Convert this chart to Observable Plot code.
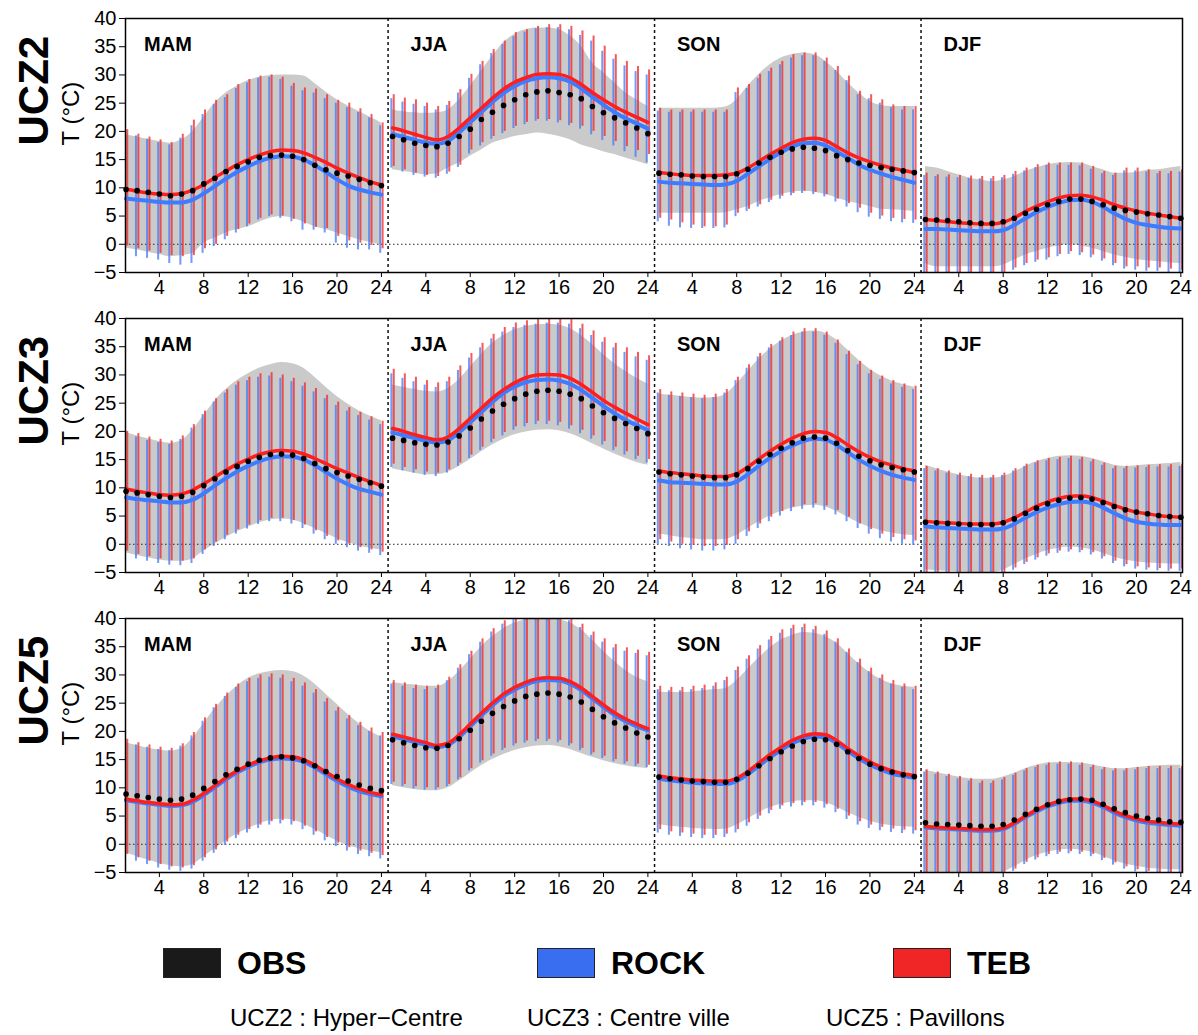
<!DOCTYPE html>
<html><head><meta charset="utf-8">
<script src="https://cdn.jsdelivr.net/npm/d3@7"></script>
<script src="https://cdn.jsdelivr.net/npm/@observablehq/plot@0.6"></script>
<style>
body{margin:0;background:#fff;font-family:"Liberation Sans",Arial,sans-serif;}
#wrap{position:relative;width:1198px;height:1035px;overflow:hidden;}
#charts svg{display:block;}
.leg{position:absolute;top:948px;height:30px;display:flex;align-items:center;}
.sw{width:58px;height:30px;border:1px solid #222;box-sizing:border-box;}
.lt{font-weight:bold;font-size:32px;margin-left:16px;line-height:30px;}
.cap{position:absolute;top:1004px;font-size:24px;line-height:28px;}
#err{position:absolute;top:0;left:0;color:red;font-size:14px;}
</style></head>
<body><div id="wrap"><div id="charts"></div>
<div class="leg" style="left:163px"><div class="sw" style="background:#1a1a1a"></div><div class="lt">OBS</div></div>
<div class="leg" style="left:537px"><div class="sw" style="background:#3a6ef0"></div><div class="lt">ROCK</div></div>
<div class="leg" style="left:893px"><div class="sw" style="background:#f02626"></div><div class="lt">TEB</div></div>
<div class="cap" style="left:230px">UCZ2 : Hyper−Centre</div>
<div class="cap" style="left:527px">UCZ3 : Centre ville</div>
<div class="cap" style="left:826px">UCZ5 : Pavillons</div>
<div id="err"></div>
</div>
<script>
const zones = ["UCZ2", "UCZ3", "UCZ5"];
const seasons = ["MAM", "JJA", "SON", "DJF"];
const hours = [1,2,3,4,5,6,7,8,9,10,11,12,13,14,15,16,17,18,19,20,21,22,23,24];
const hourTicks = [4, 8, 12, 16, 20, 24];
const yTicks = [-5, 0, 5, 10, 15, 20, 25, 30, 35, 40];

// ---------- UCZ2 ----------
const UCZ2_obs = [
 [9.7,9.5,9.2,8.9,8.6,8.9,9.5,10.7,11.7,12.9,13.8,14.6,15.4,15.7,15.8,15.6,15.0,14.0,13.2,12.6,12.1,11.5,10.9,10.4],
 [19.1,18.5,17.9,17.5,17.3,17.9,19.1,20.4,22.1,23.4,24.6,25.6,26.5,27.0,27.2,26.9,26.5,25.8,24.4,23.3,22.4,21.5,20.6,19.6],
 [12.6,12.4,12.3,12.1,12.0,12.0,12.0,12.5,13.3,14.4,15.4,16.3,16.9,17.2,17.0,16.6,15.7,15.0,14.4,14.0,13.6,13.3,13.0,12.7],
 [4.4,4.3,4.2,4.0,3.8,3.7,3.7,4.0,4.6,5.5,6.2,7.0,7.6,8.0,8.0,7.6,7.0,6.4,6.0,5.7,5.4,5.2,4.9,4.6]];
const UCZ2_teb = [
 [9.8,9.4,9.1,8.9,8.8,9.0,9.6,10.6,11.8,13.0,14.1,15.0,15.8,16.4,16.7,16.6,16.2,15.4,14.5,13.5,12.6,11.8,11.1,10.5],
 [20.6,20.1,19.5,18.9,18.5,19.1,20.6,22.4,24.1,25.9,27.5,28.7,29.5,30.1,30.2,30.1,29.5,28.3,26.9,25.6,24.4,23.4,22.5,21.6],
 [12.7,12.5,12.3,12.2,12.2,12.2,12.3,12.6,13.5,14.7,15.9,17.0,18.0,18.6,18.8,18.4,17.3,16.2,15.3,14.6,14.0,13.5,13.1,12.7],
 [4.4,4.2,4.0,3.8,3.7,3.6,3.6,3.9,4.7,5.8,6.7,7.5,8.2,8.6,8.7,8.4,7.8,7.0,6.4,5.9,5.5,5.2,4.9,4.6]];
const UCZ2_rock = [
 [8.1,7.9,7.7,7.5,7.4,7.4,7.9,9.0,10.3,11.6,12.8,13.8,14.7,15.3,15.6,15.5,15.0,14.0,12.8,11.5,10.4,9.7,9.2,8.8],
 [19.5,19.0,18.5,18.0,17.8,18.3,19.8,21.6,23.4,25.2,26.8,28.0,28.9,29.4,29.6,29.4,28.8,27.6,26.1,24.7,23.4,22.3,21.4,20.5],
 [11.1,10.9,10.8,10.7,10.6,10.5,10.6,11.2,12.5,13.8,15.1,16.3,17.3,17.9,18.0,17.5,16.4,15.3,14.1,13.2,12.5,11.9,11.4,10.9],
 [2.7,2.7,2.6,2.5,2.4,2.3,2.3,2.5,3.4,4.6,5.7,6.6,7.3,7.8,7.9,7.5,6.6,5.5,4.5,3.8,3.4,3.1,2.9,2.8]];
const UCZ2_obsLo = [
 [-0.7,-1.0,-1.4,-1.8,-2.2,-2.0,-1.6,0.2,1.1,2.0,2.6,3.1,3.9,4.6,4.9,4.6,3.9,3.1,2.6,2.0,1.4,0.8,0.3,-0.1],
 [13.2,12.9,12.6,12.3,12.5,13.5,14.4,15.6,16.7,17.9,18.5,19.1,19.4,19.7,19.5,19.1,18.5,17.6,17.0,16.4,15.9,15.3,14.7,14.1],
 [5.5,5.5,5.5,5.5,5.5,5.5,5.6,6.1,6.7,7.6,8.2,8.8,9.2,9.4,9.2,8.8,8.2,7.6,7.2,6.7,6.2,6.1,6.0,5.8],
 [-3.4,-4.0,-4.0,-4.0,-4.0,-4.0,-4.0,-3.7,-2.8,-1.9,-1.3,-0.7,-0.3,-0.1,-0.3,-0.7,-1.3,-1.9,-2.3,-2.7,-2.9,-3.1,-3.3,-3.4]];
const UCZ2_obsHi = [
 [19.4,19.0,18.6,18.2,17.9,18.5,20.0,22.5,25.0,26.8,28.0,29.0,29.6,29.9,30.0,30.0,29.8,28.5,27.0,25.6,24.5,23.5,22.5,21.5],
 [23.8,23.5,23.3,23.2,23.3,23.8,25.6,28.0,30.7,33.3,35.7,37.2,38.0,38.3,38.3,38.0,36.9,35.1,32.1,30.4,28.6,26.8,25.6,24.4],
 [24.1,24.1,24.1,24.1,24.1,24.1,24.3,25.6,28.0,30.1,31.8,33.0,33.6,33.9,33.6,32.4,30.7,28.6,26.8,25.3,24.6,24.4,24.4,24.4],
 [13.8,13.5,12.9,12.3,11.7,11.4,11.1,11.4,12.0,12.9,13.5,14.1,14.4,14.5,14.4,13.8,13.2,12.6,12.6,12.7,13.1,13.2,13.5,13.8]];
const UCZ2_tebHi = [
 [20.3,19.5,19.0,18.5,18.0,19.5,22.0,23.8,25.5,26.5,28.3,29.2,29.8,30.0,29.6,28.5,27.7,27.5,26.5,25.5,25.0,24.0,23.0,21.5],
 [26.5,25.9,25.6,25.0,24.4,25.3,27.4,30.1,32.4,34.5,36.0,37.5,38.0,38.6,38.9,38.9,38.6,37.8,36.9,35.1,33.6,32.4,31.5,30.9],
 [24.1,23.8,23.8,23.8,23.8,23.8,23.8,27.7,28.3,30.1,31.2,32.4,33.6,33.9,33.9,33.0,31.5,29.8,27.1,26.5,25.6,24.7,24.4,24.4],
 [12.6,12.3,12.3,12.2,12.1,12.0,12.0,12.2,12.9,13.5,14.1,14.4,14.4,14.4,14.4,13.8,12.9,12.6,13.5,13.5,13.2,12.9,12.9,13.2]];
const UCZ2_rockHi = [
 [19.5,19.2,18.6,18.0,17.6,18.8,21.0,23.0,24.8,26.0,27.6,28.6,29.4,29.6,29.2,28.0,27.2,26.8,25.8,25.0,24.2,23.4,22.4,21.0],
 [25.8,25.2,24.8,24.4,23.8,24.6,26.8,29.4,31.8,33.8,35.4,36.8,37.6,38.2,38.4,38.4,38.0,37.0,36.0,34.2,32.8,31.6,30.6,30.0],
 [23.6,23.4,23.4,23.4,23.4,23.4,23.4,26.9,27.6,29.4,30.6,31.8,33.0,33.4,33.4,32.4,30.8,29.0,26.5,25.8,25.0,24.2,23.8,23.8],
 [12.2,12.0,11.9,11.8,11.7,11.6,11.6,11.8,12.4,13.0,13.6,14.0,14.0,14.0,13.9,13.3,12.5,12.2,13.0,13.0,12.8,12.5,12.5,12.8]];
const UCZ2_tebLo = [
 [-0.3,-0.8,-1.2,-1.6,-2.0,-2.2,-2.0,-0.8,0.0,1.4,2.6,3.6,4.6,5.2,5.0,4.4,3.6,3.0,2.8,1.4,0.6,0.2,-0.2,-0.8],
 [13.8,13.2,12.6,12.2,12.0,12.8,14.0,16.7,18.0,19.1,20.0,20.9,21.6,22.1,22.1,21.9,21.4,20.9,20.0,19.1,18.2,17.3,16.6,15.9],
 [4.6,4.3,3.8,3.4,3.1,3.1,3.4,5.5,6.2,7.0,7.8,8.5,9.0,9.4,9.2,8.8,8.0,7.2,6.4,5.5,5.0,4.6,4.4,4.3],
 [-5.5,-5.5,-5.5,-5.5,-5.5,-5.5,-5.5,-5.0,-4.2,-3.4,-2.8,-2.4,-1.8,-1.3,-1.5,-1.9,-2.6,-3.4,-4.0,-4.0,-4.2,-4.2,-4.4,-4.6]];
const UCZ2_rockLo = [
 [-1.2,-2.2,-2.5,-2.8,-3.4,-3.7,-3.4,-1.6,-0.4,0.8,2.0,3.1,4.3,4.9,4.6,4.0,2.5,2.5,2.0,0.2,-0.7,-1.0,-1.0,-1.6],
 [13.5,12.8,12.2,11.9,11.7,12.4,13.6,16.0,17.4,18.6,19.6,20.5,21.2,21.8,21.8,21.5,21.0,20.4,19.4,18.4,17.4,16.4,15.4,14.4],
 [4.0,3.2,2.9,2.8,2.8,2.8,2.9,4.9,5.8,6.6,7.4,8.0,8.6,9.0,8.8,8.4,7.5,6.6,5.6,4.8,4.4,4.0,3.8,3.7],
 [-5.5,-5.5,-5.5,-5.5,-5.5,-5.5,-5.5,-5.2,-4.6,-3.8,-3.2,-2.8,-2.2,-1.8,-2.0,-2.4,-3.0,-3.8,-4.4,-4.6,-4.8,-4.8,-5.0,-5.0]];

// ---------- UCZ3 ----------
const UCZ3_obs = [
 [9.4,9.1,8.8,8.5,8.3,8.5,9.2,10.4,11.6,12.8,13.8,14.7,15.4,15.9,16.0,15.8,15.2,14.3,13.4,12.7,12.1,11.5,10.9,10.3],
 [18.8,18.4,18.0,17.7,17.6,18.1,19.2,20.6,22.2,23.6,24.8,25.8,26.6,27.1,27.3,27.1,26.6,25.8,24.5,23.3,22.3,21.4,20.5,19.6],
 [12.8,12.5,12.3,12.1,11.9,11.8,11.8,12.3,13.4,14.7,15.9,17.0,18.0,18.8,19.0,18.8,17.9,16.6,15.6,14.8,14.1,13.6,13.2,12.8],
 [3.9,3.8,3.7,3.6,3.5,3.5,3.5,3.8,4.5,5.5,6.4,7.2,7.8,8.2,8.3,8.0,7.4,6.7,6.1,5.7,5.4,5.1,4.9,4.8]];
const UCZ3_teb = [
 [9.8,9.4,9.1,8.8,8.7,8.9,9.6,10.7,11.9,13.1,14.2,15.1,15.9,16.4,16.6,16.5,16.0,15.2,14.3,13.4,12.6,11.8,11.1,10.4],
 [20.5,20.0,19.4,18.9,18.5,19.0,20.5,22.3,24.1,25.9,27.4,28.6,29.5,30.0,30.1,30.0,29.4,28.3,26.9,25.5,24.3,23.2,22.2,21.2],
 [13.0,12.7,12.5,12.3,12.1,12.0,12.0,12.5,13.7,15.1,16.5,17.7,18.8,19.6,20.0,19.8,18.9,17.6,16.4,15.4,14.6,14.0,13.4,13.0],
 [4.1,3.9,3.8,3.7,3.6,3.6,3.6,3.9,4.7,5.7,6.7,7.5,8.1,8.5,8.6,8.3,7.6,6.9,6.2,5.7,5.4,5.1,4.9,4.8]];
const UCZ3_rock = [
 [8.3,8.0,7.8,7.6,7.4,7.4,7.9,9.0,10.4,11.7,12.9,13.9,14.7,15.3,15.6,15.5,15.0,14.0,12.8,11.6,10.6,9.8,9.3,8.8],
 [19.8,19.3,18.8,18.3,18.0,18.4,19.8,21.6,23.4,25.2,26.8,27.9,28.7,29.1,29.2,29.0,28.4,27.3,25.9,24.5,23.2,22.0,21.1,20.2],
 [11.3,11.0,10.9,10.8,10.7,10.6,10.6,11.1,12.4,13.9,15.3,16.5,17.5,18.3,18.7,18.5,17.6,16.3,15.0,13.9,13.0,12.3,11.8,11.4],
 [3.2,3.0,2.9,2.8,2.7,2.6,2.6,2.8,3.6,4.7,5.7,6.5,7.1,7.5,7.6,7.3,6.5,5.5,4.6,4.0,3.7,3.5,3.4,3.4]];
const UCZ3_obsLo = [
 [-1.5,-2.0,-2.4,-2.8,-3.0,-3.0,-2.6,-1.2,0.0,1.2,2.2,3.0,3.8,4.3,4.5,4.3,3.7,2.8,1.9,1.0,0.3,-0.3,-0.7,-1.0],
 [13.4,13.0,12.6,12.3,12.3,12.8,13.8,15.0,16.4,17.6,18.6,19.4,19.9,20.2,20.3,20.1,19.6,18.8,17.8,16.9,16.0,15.2,14.5,14.0],
 [1.8,1.5,1.2,1.0,0.8,0.8,0.9,1.6,2.8,4.0,5.0,5.8,6.4,6.8,6.9,6.6,5.8,4.8,3.8,3.0,2.4,2.0,1.7,1.5],
 [-4.5,-4.7,-4.8,-4.9,-5.0,-5.0,-5.0,-4.6,-3.6,-2.6,-1.8,-1.1,-0.7,-0.5,-0.6,-1.0,-1.6,-2.3,-2.8,-3.1,-3.3,-3.4,-3.5,-3.5]];
const UCZ3_obsHi = [
 [19.8,19.2,18.7,18.2,17.9,18.4,20.2,22.8,25.4,27.4,29.0,30.2,31.2,31.8,32.2,32.0,31.2,29.6,27.8,26.2,24.8,23.6,22.7,21.9],
 [28.2,27.8,27.4,27.1,27.0,27.6,29.2,31.4,33.6,35.6,37.0,38.0,38.6,38.9,39.0,38.8,38.2,37.0,35.4,33.6,32.0,30.6,29.4,28.4],
 [26.6,26.4,26.2,26.0,25.9,26.0,26.6,28.4,30.6,32.8,34.6,36.0,37.0,37.6,37.8,37.4,36.2,34.4,32.6,31.0,29.8,28.9,28.3,27.8],
 [14.0,13.4,12.8,12.3,11.9,11.7,11.7,12.0,12.8,13.8,14.6,15.2,15.6,15.7,15.6,15.2,14.6,14.0,13.8,13.9,14.1,14.2,14.3,14.5]];
const UCZ3_tebHi = [
 [20.0,19.6,19.0,18.6,18.3,19.2,21.2,23.6,25.8,27.4,28.8,29.6,30.2,30.4,30.0,29.4,28.6,27.6,26.4,25.2,24.2,23.4,22.6,21.8],
 [31.0,30.2,29.6,29.0,28.6,29.6,31.6,33.8,35.6,37.2,38.4,39.2,39.6,39.8,40.0,40.0,39.8,39.0,37.8,36.6,35.6,34.8,34.0,33.4],
 [27.4,27.0,26.8,26.6,26.4,26.6,27.4,29.6,31.8,33.8,35.4,36.6,37.6,38.2,38.2,37.6,36.2,34.2,32.4,30.8,29.8,29.0,28.4,28.0],
 [13.8,13.4,13.0,12.6,12.4,12.2,12.2,12.6,13.4,14.2,14.8,15.2,15.4,15.6,15.4,15.0,14.4,13.8,13.8,13.9,14.0,14.1,14.1,14.2]];
const UCZ3_rockHi = [
 [19.4,19.0,18.4,18.0,17.7,18.6,20.6,23.0,25.2,26.8,28.2,29.0,29.6,29.8,29.4,28.8,28.0,27.0,25.8,24.6,23.6,22.8,22.0,21.2],
 [30.2,29.4,28.8,28.2,27.8,28.8,30.8,33.0,34.8,36.4,37.6,38.4,38.8,39.0,39.2,39.2,39.0,38.2,37.0,35.8,34.8,34.0,33.2,32.6],
 [26.8,26.4,26.2,26.0,25.8,26.0,26.8,29.0,31.2,33.2,34.8,36.0,37.0,37.6,37.6,37.0,35.6,33.6,31.8,30.2,29.2,28.4,27.8,27.4],
 [13.4,13.0,12.6,12.2,12.0,11.8,11.8,12.2,13.0,13.8,14.4,14.8,15.0,15.2,15.0,14.6,14.0,13.4,13.4,13.5,13.6,13.7,13.7,13.8]];
const UCZ3_tebLo = [
 [-1.2,-1.8,-2.2,-2.6,-2.9,-3.0,-2.6,-1.0,0.4,1.6,2.6,3.4,4.2,4.6,4.6,4.2,3.4,2.4,1.4,0.6,0.0,-0.6,-1.0,-1.4],
 [14.2,13.6,13.2,12.8,12.6,13.2,14.4,15.8,17.2,18.6,19.8,20.8,21.4,21.8,21.8,21.6,21.0,20.2,19.2,18.2,17.2,16.4,15.6,15.0],
 [0.8,0.4,0.0,-0.2,-0.4,-0.4,-0.2,0.8,2.2,3.6,4.8,5.8,6.6,7.0,7.2,6.8,6.0,4.8,3.6,2.6,1.8,1.2,0.8,0.6],
 [-5.5,-5.5,-5.5,-5.5,-5.5,-5.5,-5.5,-5.2,-4.2,-3.2,-2.4,-1.7,-1.2,-1.0,-1.1,-1.5,-2.2,-3.0,-3.6,-4.0,-4.2,-4.3,-4.4,-4.4]];
const UCZ3_rockLo = [
 [-2.0,-2.6,-3.0,-3.4,-3.7,-3.8,-3.4,-1.8,-0.4,0.8,1.8,2.7,3.5,4.0,4.0,3.6,2.8,1.8,0.8,0.0,-0.6,-1.2,-1.6,-2.0],
 [13.6,13.0,12.6,12.2,12.0,12.6,13.8,15.2,16.6,18.0,19.2,20.2,20.8,21.2,21.2,21.0,20.4,19.6,18.6,17.6,16.6,15.8,15.0,14.4],
 [0.0,-0.4,-0.8,-1.0,-1.2,-1.2,-1.0,0.0,1.4,2.8,4.0,5.0,5.8,6.2,6.4,6.0,5.2,4.0,2.8,1.8,1.0,0.4,0.0,-0.2],
 [-5.5,-5.5,-5.5,-5.5,-5.5,-5.5,-5.5,-5.5,-4.6,-3.6,-2.8,-2.1,-1.6,-1.4,-1.5,-1.9,-2.6,-3.4,-4.0,-4.4,-4.6,-4.7,-4.8,-4.8]];

// ---------- UCZ5 ----------
const UCZ5_obs = [
 [8.9,8.6,8.3,8.0,7.8,8.0,8.7,9.9,11.1,12.3,13.3,14.2,14.9,15.3,15.5,15.3,14.8,13.9,12.9,12.0,11.2,10.5,9.9,9.5],
 [18.5,18.0,17.5,17.1,17.0,17.5,18.7,20.2,21.8,23.2,24.4,25.4,26.2,26.6,26.8,26.6,26.1,25.2,23.9,22.6,21.5,20.6,19.7,19.0],
 [11.9,11.6,11.4,11.2,11.1,11.0,11.0,11.5,12.6,13.9,15.2,16.4,17.4,18.2,18.6,18.5,17.7,16.4,15.2,14.2,13.4,12.8,12.3,12.0],
 [3.8,3.6,3.5,3.4,3.3,3.2,3.2,3.5,4.3,5.3,6.2,7.0,7.6,7.9,8.0,7.8,7.1,6.3,5.6,5.0,4.6,4.3,4.0,3.9]];
const UCZ5_teb = [
 [8.0,7.7,7.4,7.2,7.0,7.1,7.8,9.0,10.4,11.8,13.0,14.0,14.8,15.3,15.6,15.5,15.0,14.0,12.8,11.6,10.6,9.8,9.2,8.8],
 [19.5,19.0,18.5,18.0,17.5,17.9,19.4,21.3,23.2,25.0,26.6,27.8,28.7,29.3,29.5,29.4,28.8,27.7,26.2,24.7,23.3,22.2,21.3,20.5],
 [12.1,11.8,11.6,11.4,11.3,11.2,11.2,11.7,12.9,14.4,15.9,17.2,18.4,19.2,19.6,19.4,18.4,17.0,15.7,14.6,13.7,13.0,12.5,12.2],
 [3.2,3.0,2.9,2.8,2.7,2.6,2.6,2.9,3.8,5.0,6.1,7.0,7.6,8.0,8.0,7.7,6.9,5.9,5.1,4.5,4.1,3.9,3.7,3.6]];
const UCZ5_rock = [
 [7.8,7.5,7.2,7.0,6.8,6.9,7.5,8.7,10.1,11.5,12.7,13.7,14.5,15.0,15.2,15.1,14.6,13.6,12.4,11.2,10.2,9.4,8.9,8.5],
 [19.1,18.6,18.1,17.6,17.2,17.6,19.0,20.9,22.8,24.6,26.2,27.4,28.3,28.9,29.1,29.0,28.4,27.3,25.8,24.3,22.9,21.8,20.9,20.2],
 [11.6,11.3,11.1,10.9,10.8,10.7,10.7,11.2,12.4,13.9,15.4,16.7,17.9,18.7,19.1,18.9,17.9,16.5,15.2,14.1,13.2,12.5,12.1,11.8],
 [3.0,2.8,2.7,2.6,2.5,2.4,2.4,2.7,3.6,4.8,5.8,6.7,7.3,7.7,7.7,7.4,6.6,5.6,4.8,4.2,3.8,3.6,3.4,3.3]];
const UCZ5_obsLo = [
 [-1.5,-2.2,-2.8,-3.4,-3.8,-4.0,-3.6,-2.2,-0.8,0.6,1.8,2.8,3.6,4.2,4.5,4.3,3.6,2.6,1.6,0.6,-0.2,-0.8,-1.2,-1.5],
 [10.4,10.0,9.7,9.5,9.5,10.0,11.2,12.6,13.9,15.0,15.9,16.6,17.1,17.4,17.5,17.3,16.8,16.1,15.4,14.8,14.3,13.9,13.6,13.4],
 [3.5,3.2,3.0,2.8,2.7,2.6,2.7,3.4,4.5,5.6,6.5,7.1,7.5,7.7,7.7,7.4,6.6,5.6,4.8,4.1,3.6,3.3,3.1,3.0],
 [-5.0,-5.2,-5.3,-5.4,-5.5,-5.5,-5.5,-5.0,-4.0,-2.9,-2.0,-1.4,-1.0,-0.9,-1.0,-1.4,-2.1,-2.9,-3.5,-3.9,-4.2,-4.4,-4.5,-4.5]];
const UCZ5_obsHi = [
 [18.0,17.5,17.0,16.7,16.5,17.0,18.8,21.4,24.0,26.2,28.0,29.4,30.2,30.6,30.8,30.6,29.8,28.4,26.6,24.8,23.0,21.4,20.0,19.0],
 [28.6,28.4,28.2,28.0,28.0,28.8,30.6,32.8,35.0,36.8,38.2,39.2,39.8,40.0,40.0,39.8,39.2,38.0,36.2,34.2,32.4,30.8,29.6,28.8],
 [27.0,26.9,26.9,27.0,27.2,27.4,27.6,29.0,31.0,33.0,34.8,36.2,37.0,37.5,37.4,36.8,35.6,33.8,32.0,30.4,29.2,28.4,28.0,27.8],
 [13.1,12.7,12.3,11.9,11.6,11.5,11.5,11.9,12.6,13.4,14.0,14.4,14.5,14.5,14.4,14.1,13.7,13.4,13.4,13.6,13.8,13.9,14.0,14.0]];
const UCZ5_tebHi = [
 [18.6,18.0,17.6,17.2,17.0,17.8,19.8,22.4,24.8,26.8,28.4,29.4,30.0,30.2,30.0,29.4,28.6,27.4,25.8,24.2,22.8,21.6,20.6,19.8],
 [29.0,28.6,28.2,28.0,28.2,29.6,31.8,34.2,36.4,38.2,39.6,40.5,41.0,41.0,41.0,40.8,40.2,39.0,37.6,36.4,35.4,34.8,34.4,34.0],
 [28.0,27.8,27.8,28.0,28.2,28.6,29.6,31.4,33.4,35.2,36.8,38.0,38.8,39.0,38.6,37.8,36.4,34.6,32.8,31.2,30.0,29.0,28.4,28.0],
 [13.2,12.8,12.4,12.0,11.6,11.2,11.2,11.8,12.6,13.4,14.0,14.4,14.6,14.6,14.4,14.0,13.6,13.4,13.4,13.6,13.8,13.8,13.8,13.8]];
const UCZ5_rockHi = [
 [18.0,17.6,17.2,16.8,16.6,17.4,19.2,21.8,24.2,26.2,27.8,28.8,29.4,29.6,29.4,28.8,28.0,26.8,25.2,23.6,22.2,21.0,20.0,19.2],
 [28.4,28.0,27.6,27.4,27.6,29.0,31.2,33.6,35.8,37.6,39.0,39.8,40.4,40.6,40.6,40.4,39.6,38.4,37.0,35.8,34.8,34.2,33.8,33.4],
 [27.4,27.2,27.2,27.4,27.6,28.0,29.0,30.8,32.8,34.6,36.2,37.4,38.2,38.4,38.0,37.2,35.8,34.0,32.2,30.6,29.4,28.4,27.8,27.4],
 [12.8,12.4,12.0,11.6,11.2,10.8,10.8,11.4,12.2,13.0,13.6,14.0,14.2,14.2,14.0,13.6,13.2,13.0,13.0,13.2,13.4,13.4,13.4,13.4]];
const UCZ5_tebLo = [
 [-1.8,-2.4,-3.0,-3.6,-4.0,-4.2,-3.8,-2.4,-1.0,0.4,1.6,2.6,3.4,4.0,4.2,4.0,3.2,2.2,1.2,0.2,-0.6,-1.2,-1.6,-2.0],
 [11.0,10.6,10.2,10.0,10.0,10.6,11.8,13.4,14.8,16.0,17.0,17.8,18.3,18.6,18.6,18.4,17.8,17.0,16.2,15.6,15.0,14.6,14.2,14.0],
 [2.6,2.2,2.0,1.8,1.6,1.6,1.8,2.6,3.8,5.0,6.0,6.8,7.2,7.4,7.4,7.0,6.2,5.0,4.0,3.4,3.0,2.7,2.5,2.4],
 [-5.5,-5.5,-5.5,-5.5,-5.5,-5.5,-5.5,-5.4,-4.4,-3.2,-2.4,-1.8,-1.4,-1.3,-1.4,-1.8,-2.5,-3.3,-4.0,-4.5,-4.8,-5.0,-5.0,-5.0]];
const UCZ5_rockLo = [
 [-2.4,-3.0,-3.6,-4.2,-4.6,-4.8,-4.4,-3.0,-1.6,-0.2,1.0,2.0,2.8,3.4,3.6,3.4,2.6,1.6,0.6,-0.4,-1.2,-1.8,-2.2,-2.6],
 [10.6,10.2,9.8,9.6,9.6,10.2,11.4,13.0,14.4,15.6,16.6,17.4,17.9,18.2,18.2,18.0,17.4,16.6,15.8,15.2,14.6,14.2,13.8,13.6],
 [2.0,1.6,1.4,1.2,1.0,1.0,1.2,2.0,3.2,4.4,5.4,6.2,6.6,6.8,6.8,6.4,5.6,4.4,3.4,2.8,2.4,2.1,1.9,1.8],
 [-5.5,-5.5,-5.5,-5.5,-5.5,-5.5,-5.5,-5.5,-4.8,-3.6,-2.8,-2.2,-1.8,-1.7,-1.8,-2.2,-2.9,-3.7,-4.4,-4.9,-5.2,-5.4,-5.4,-5.4]];

// ---------- assembly ----------
const seriesByZone = {
  UCZ2: {obs: UCZ2_obs, teb: UCZ2_teb, rock: UCZ2_rock, obsLo: UCZ2_obsLo, obsHi: UCZ2_obsHi, tebLo: UCZ2_tebLo, tebHi: UCZ2_tebHi, rockLo: UCZ2_rockLo, rockHi: UCZ2_rockHi},
  UCZ3: {obs: UCZ3_obs, teb: UCZ3_teb, rock: UCZ3_rock, obsLo: UCZ3_obsLo, obsHi: UCZ3_obsHi, tebLo: UCZ3_tebLo, tebHi: UCZ3_tebHi, rockLo: UCZ3_rockLo, rockHi: UCZ3_rockHi},
  UCZ5: {obs: UCZ5_obs, teb: UCZ5_teb, rock: UCZ5_rock, obsLo: UCZ5_obsLo, obsHi: UCZ5_obsHi, tebLo: UCZ5_tebLo, tebHi: UCZ5_tebHi, rockLo: UCZ5_rockLo, rockHi: UCZ5_rockHi}
};
const errs = [];
function table(zone) {
  const S = seriesByZone[zone];
  const out = [];
  for (const k in S) S[k].forEach((a, si) => { if (a.length !== 24) errs.push(zone + " " + k + " " + si + " len " + a.length); });
  seasons.forEach((season, si) => hours.forEach((h, hi) => {
    const d = {season, g: si * 24 + h};
    for (const k in S) d[k] = S[k][si][hi];
    out.push(d);
  }));
  return out;
}
const xTickVals = seasons.flatMap((s, si) => hourTicks.map(t => si * 24 + t));
const seasonBreaks = [1, 2, 3].map(i => i * 24 + 0.6);
const seasonStarts = seasons.map((s, si) => ({label: s, g: si * 24 + 1}));

const FONT = "'Liberation Sans', Arial, Helvetica, sans-serif";
const charts = document.getElementById("charts");
for (const zone of zones) {
  const data = table(zone);
  const chart = Plot.plot({
    width: 1198, height: 300,
    marginLeft: 125, marginRight: 16, marginTop: 18, marginBottom: 28,
    style: {fontSize: "20px", fontFamily: FONT, color: "black", background: "white", overflow: "visible"},
    x: {domain: [0.95, 96.15], ticks: xTickVals, tickFormat: d => ((d - 1) % 24) + 1, tickSize: 5, tickPadding: 2, label: null},
    y: {domain: [-5, 40], ticks: yTicks, tickSize: 6, tickPadding: 3, label: null},
    marks: [
      Plot.areaY(data, {x: "g", y1: "obsLo", y2: "obsHi", z: "season", fill: "#c4c4c4", fillOpacity: 0.9, curve: "monotone-x", clip: true}),
      Plot.ruleY([0], {stroke: "#222", strokeDasharray: "1.5,2.5", strokeWidth: 1}),
      Plot.ruleX(data, {x: "g", y1: "rockLo", y2: "rockHi", stroke: "#4a7cf2", strokeWidth: 2, strokeOpacity: 0.78, dx: -1.2, clip: true}),
      Plot.ruleX(data, {x: "g", y1: "tebLo", y2: "tebHi", stroke: "#f22a2a", strokeWidth: 2, strokeOpacity: 0.78, dx: 1.2, clip: true}),
      Plot.line(data, {x: "g", y: "rock", z: "season", stroke: "#3d7bff", strokeWidth: 4, curve: "monotone-x"}),
      Plot.line(data, {x: "g", y: "teb", z: "season", stroke: "#ff1e1e", strokeWidth: 3.5, curve: "monotone-x"}),
      Plot.dot(data, {x: "g", y: "obs", r: 2.8, fill: "black"}),
      Plot.ruleX(seasonBreaks, {stroke: "#111", strokeDasharray: "3,3", strokeWidth: 1.5}),
      Plot.frame({stroke: "black", strokeWidth: 1.5}),
      Plot.text(seasonStarts, {x: "g", text: "label", frameAnchor: "top", lineAnchor: "middle", dy: 26, dx: 18, textAnchor: "start", fontWeight: "bold", fontSize: 20}),
      Plot.text([zone], {frameAnchor: "left", dx: -91, rotate: -90, fontSize: 42, fontWeight: "bold"}),
      Plot.text(["T (°C)"], {frameAnchor: "left", dx: -54, rotate: -90, fontSize: 24})
    ]
  });
  charts.appendChild(chart);
}
if (errs.length) document.getElementById("err").textContent = errs.join("; ");
</script>
</body></html>
